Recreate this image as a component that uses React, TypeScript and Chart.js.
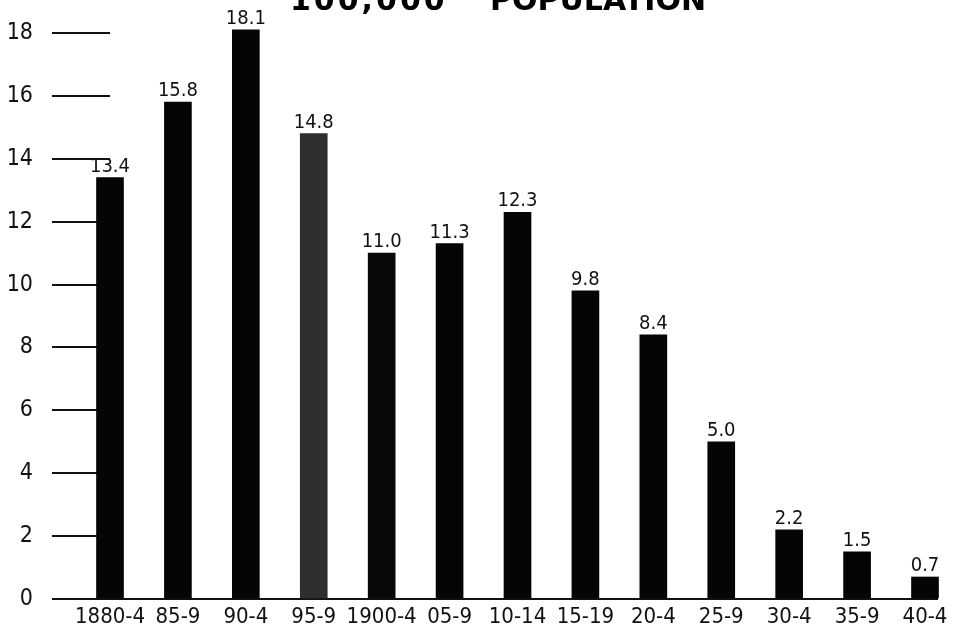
import React, { useEffect, useRef } from "react";
import { Chart, registerables } from "chart.js";

Chart.register(...registerables);

const categories = ["1880-4", "85-9", "90-4", "95-9", "1900-4", "05-9", "10-14", "15-19", "20-4", "25-9", "30-4", "35-9", "40-4"];
const values = [13.4, 15.8, 18.1, 14.8, 11.0, 11.3, 12.3, 9.8, 8.4, 5.0, 2.2, 1.5, 0.7];
const valueLabels = ["13.4", "15.8", "18.1", "14.8", "11.0", "11.3", "12.3", "9.8", "8.4", "5.0", "2.2", "1.5", "0.7"];
const barColors = ["#050505", "#050505", "#050505", "#2e2e2e", "#080808", "#050505", "#050505", "#050505", "#050505", "#050505", "#050505", "#050505", "#050505"];
const titleParts = ["100,000", "POPULATION"];
const yMin = 0;
const yMax = 18;
const yStep = 2;

const HAND_FONT = '"DejaVu Sans Condensed", "DejaVu Sans", sans-serif';

const decorPlugin = {
  id: "decor",
  afterDatasetsDraw(chart: any) {
    const ctx = chart.ctx;
    const meta = chart.getDatasetMeta(0);
    ctx.save();
    ctx.fillStyle = "#111";
    ctx.font = `20px ${HAND_FONT}`;
    ctx.textAlign = "center";
    ctx.textBaseline = "alphabetic";
    meta.data.forEach((bar: any, i: number) => {
      ctx.fillText(valueLabels[i], bar.x, bar.y - 6);
    });
    const xs = chart.scales.x;
    const ys = chart.scales.y;
    const y0 = ys.getPixelForValue(0);
    ctx.strokeStyle = "#111";
    ctx.lineWidth = 2;
    ctx.beginPath();
    ctx.moveTo(xs.right, y0);
    ctx.lineTo(xs.right + 13, y0);
    ctx.stroke();
    ctx.restore();
  },
  afterDraw(chart: any) {
    const ctx = chart.ctx;
    ctx.save();
    ctx.fillStyle = "#000";
    ctx.font = 'bold 30px "DejaVu Sans", sans-serif';
    ctx.textAlign = "left";
    ctx.textBaseline = "alphabetic";
    (ctx as any).letterSpacing = "3px";
    ctx.fillText(titleParts[0], 290, 10);
    (ctx as any).letterSpacing = "0px";
    ctx.fillText(titleParts[1], 490, 10);
    ctx.restore();
  },
};

export default function App() {
  const ref = useRef<HTMLCanvasElement | null>(null);
  useEffect(() => {
    if (!ref.current) return;
    const chart = new Chart(ref.current, {
      type: "bar",
      data: {
        labels: categories,
        datasets: [
          {
            data: values,
            backgroundColor: barColors,
            borderWidth: 0,
            barThickness: 27,
            clip: false as any,
          },
        ],
      },
      options: {
        animation: false,
        responsive: false,
        devicePixelRatio: 1,
        layout: { padding: { left: 0, right: 32, top: 33, bottom: 0 } },
        plugins: {
          legend: { display: false },
          tooltip: { enabled: false },
          title: { display: false },
        },
        scales: {
          x: {
            type: "category",
            offset: false,
            grid: { display: false, drawTicks: false },
            border: { display: true, color: "#111", width: 2 },
            ticks: {
              color: "#111",
              font: { family: HAND_FONT, size: 22 },
              padding: 5,
              maxRotation: 0,
              autoSkip: false,
            },
            afterFit: (s: any) => {
              s.height = 33;
            },
          },
          y: {
            min: yMin,
            max: yMax,
            grid: {
              display: true,
              drawOnChartArea: false,
              drawTicks: true,
              tickLength: 58,
              color: "#111",
              lineWidth: 2,
            },
            border: { display: false },
            ticks: {
              stepSize: yStep,
              color: "#111",
              font: { family: HAND_FONT, size: 23 },
              padding: 19,
            },
            afterFit: (s: any) => {
              s.width = 110;
            },
          },
        },
      },
      plugins: [decorPlugin],
    });
    return () => chart.destroy();
  }, []);
  return (
    <div style={{ position: "absolute", left: 0, top: 0, width: 957, height: 632, overflow: "hidden", background: "#fff" }}>
      <canvas ref={ref} width={957} height={632} style={{ display: "block" }} />
    </div>
  );
}
